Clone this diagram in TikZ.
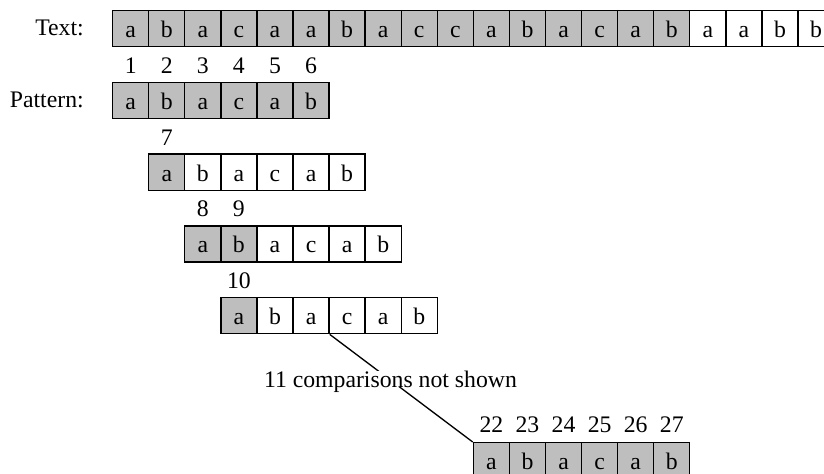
\documentclass[tikz,border=0pt]{standalone}
\usepackage{fontspec}
\setmainfont{Liberation Serif}
\definecolor{cellgray}{RGB}{190,190,190}
\begin{document}
\begin{tikzpicture}[x=0.75pt,y=-0.75pt,
  every node/.style={font=\fontsize{17.8}{21}\selectfont},
  cell/.style={draw=black, line width=1pt, minimum width=27.05pt, minimum height=27.05pt,
    inner sep=0pt, text height=13.5pt, text depth=0pt, anchor=north west},
  num/.style={anchor=base, inner sep=0pt},
  lbl/.style={anchor=base east, inner sep=0pt},
  link/.style={draw=black, line width=1pt}]
\useasboundingbox (0,0) rectangle (824,474);
\clip (0,0) rectangle (824,474);
% labels
\node[lbl] (textlbl) at (84,36) {Text:};
\node[lbl] (patlbl) at (84,107.75) {Pattern:};
% text row
\foreach \c/\f [count=\i from 0] in {a/cellgray,b/cellgray,a/cellgray,c/cellgray,a/cellgray,a/cellgray,b/cellgray,a/cellgray,c/cellgray,c/cellgray,a/cellgray,b/cellgray,a/cellgray,c/cellgray,a/cellgray,b/cellgray,a/white,a/white,b/white,b/white}
  \node[cell, fill=\f] (t\i) at ({112+36.07*\i},10) {\c};
% pattern row 1 (offset 0)
\foreach \c/\f [count=\i from 0] in {a/cellgray,b/cellgray,a/cellgray,c/cellgray,a/cellgray,b/cellgray}
  \node[cell, fill=\f] (pA\i) at ({112+36.07*\i},81.75) {\c};
\foreach \n [count=\i from 0] in {1,2,3,4,5,6}
  \node[num] (nA\i) at ([yshift=6.3pt]pA\i.north) {\n};
% pattern row 2 (offset 1)
\foreach \c/\f [count=\i from 0] in {a/cellgray,b/white,a/white,c/white,a/white,b/white}
  \node[cell, fill=\f] (pB\i) at ({112+36.07*(\i+1)},153.5) {\c};
\node[num] (nB0) at ([yshift=6.3pt]pB0.north) {7};
% pattern row 3 (offset 2)
\foreach \c/\f [count=\i from 0] in {a/cellgray,b/cellgray,a/white,c/white,a/white,b/white}
  \node[cell, fill=\f] (pC\i) at ({112+36.07*(\i+2)},225.25) {\c};
\node[num] (nC0) at ([yshift=6.3pt]pC0.north) {8};
\node[num] (nC1) at ([yshift=6.3pt]pC1.north) {9};
% pattern row 4 (offset 3)
\foreach \c/\f [count=\i from 0] in {a/cellgray,b/white,a/white,c/white,a/white,b/white}
  \node[cell, fill=\f] (pD\i) at ({112+36.07*(\i+3)},297) {\c};
\node[num] (nD0) at ([yshift=6.3pt]pD0.north) {10};
% pattern row 5 (offset 10)
\foreach \c/\f [count=\i from 0] in {a/cellgray,b/cellgray,a/cellgray,c/cellgray,a/cellgray,b/cellgray}
  \node[cell, fill=\f] (pE\i) at ({112+36.07*(\i+10)},442) {\c};
\foreach \n [count=\i from 0] in {22,23,24,25,26,27}
  \node[num] (nE\i) at ([yshift=7pt]pE\i.north) {\n};
% skipped comparisons
\draw[link] (pD2.south east) -- (pE0.north west);
\node[fill=white, inner sep=0pt, text depth=0pt, anchor=base] (skip) at (390.5,387) {11 comparisons not shown};
\end{tikzpicture}
\end{document}
